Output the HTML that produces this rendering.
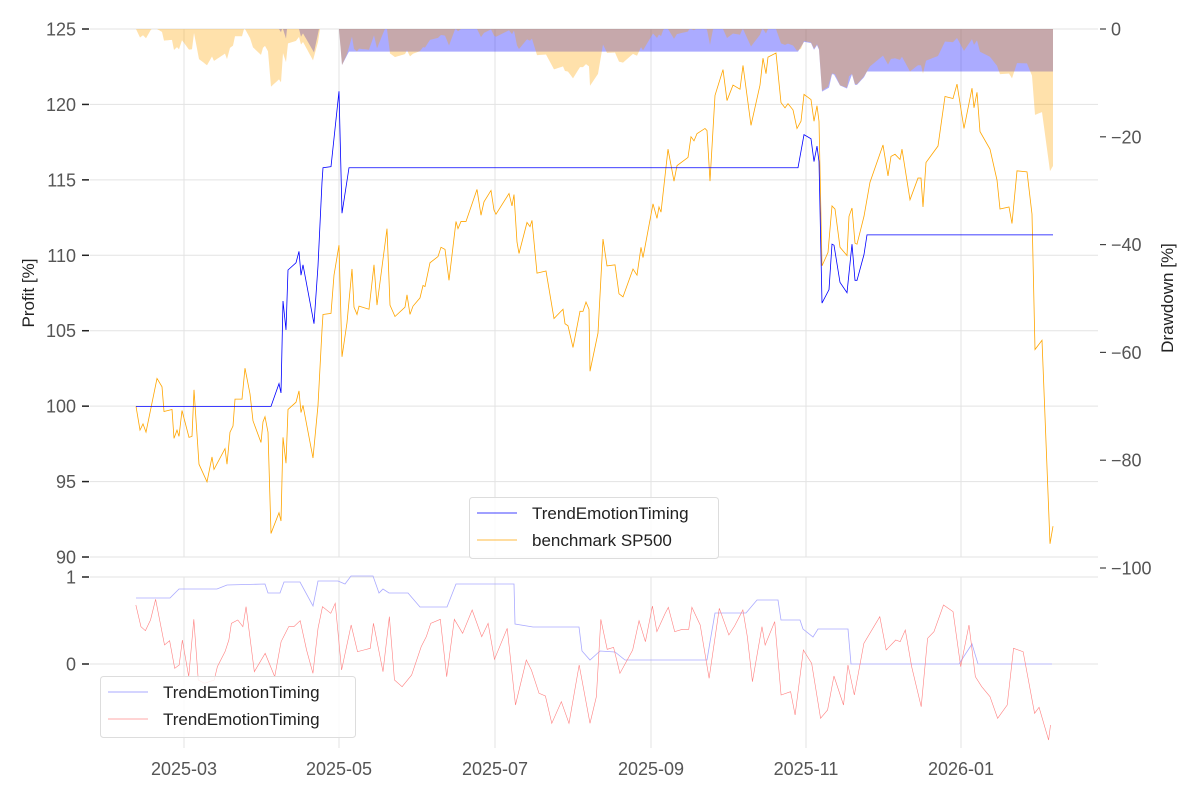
<!DOCTYPE html>
<html><head><meta charset="utf-8"><style>
body{margin:0;background:#fff;}
svg{display:block;font-family:"Liberation Sans",sans-serif;}
</style></head><body>
<svg id="s" width="1200" height="800" xmlns="http://www.w3.org/2000/svg">
<g id="grid" stroke="#e3e3e3" stroke-width="1"></g>
<g id="dd"></g>
<g id="lines"></g>
<g id="labels" fill="#555" font-size="18"></g>
<text x="34" y="293" font-size="17" fill="#222" text-anchor="middle" transform="rotate(-90 34 293)">Profit [%]</text>
<text x="1173" y="298" font-size="17" fill="#222" text-anchor="middle" transform="rotate(-90 1173 298)">Drawdown [%]</text>
<rect x="469.5" y="497.5" width="249" height="61" rx="3" fill="#fff" fill-opacity="0.85" stroke="#ddd"/>
<line x1="477" y1="513" x2="517" y2="513" stroke="#0000ff" stroke-width="0.8"/>
<line x1="477" y1="540" x2="517" y2="540" stroke="#ffa500" stroke-width="0.8"/>
<text x="532" y="519" font-size="17" fill="#222">TrendEmotionTiming</text>
<text x="532" y="546" font-size="17" fill="#222">benchmark SP500</text>
<rect x="100.5" y="676.5" width="255" height="61" rx="3" fill="#fff" fill-opacity="0.85" stroke="#ddd"/>
<line x1="108" y1="692" x2="148" y2="692" stroke="#aaaaff" stroke-width="1"/>
<line x1="108" y1="719" x2="148" y2="719" stroke="#ffaaaa" stroke-width="1"/>
<text x="163" y="698" font-size="17" fill="#222">TrendEmotionTiming</text>
<text x="163" y="725" font-size="17" fill="#222">TrendEmotionTiming</text>
</svg>
<script>
var NS="http://www.w3.org/2000/svg";
function el(p,t,a,txt){var e=document.createElementNS(NS,t);for(var k in a)e.setAttribute(k,a[k]);if(txt!=null)e.textContent=txt;document.getElementById(p).appendChild(e);return e;}
var xt=[[184,"2025-03"],[339,"2025-05"],[495,"2025-07"],[651,"2025-09"],[806,"2025-11"],[961,"2026-01"]];
xt.forEach(function(t){el("grid","line",{x1:t[0],x2:t[0],y1:29,y2:557});el("grid","line",{x1:t[0],x2:t[0],y1:577,y2:748});
el("labels","text",{x:t[0],y:775,"text-anchor":"middle"},t[1]);});
for(var v=90;v<=125;v+=5){var y=29+(125-v)*15.086;el("grid","line",{x1:90,x2:1098,y1:y,y2:y});
el("labels","text",{x:76,y:y+6.5,"text-anchor":"end"},v);el("labels","line",{x1:82,x2:89,y1:y,y2:y,stroke:"#222","stroke-width":"1.5"});}
for(var d=0;d<=100;d+=20){var y=29+d*5.39;el("labels","line",{x1:1100,x2:1106,y1:y,y2:y,stroke:"#444","stroke-width":"1.2"});
el("labels","text",{x:1111,y:y+6.5},d==0?"0":"\u2212"+d);}
[[577,"1"],[664,"0"]].forEach(function(t){el("grid","line",{x1:90,x2:1098,y1:t[0],y2:t[0]});
el("labels","text",{x:76,y:t[0]+6.5,"text-anchor":"end"},t[1]);el("labels","line",{x1:82,x2:89,y1:t[0],y2:t[0],stroke:"#222","stroke-width":"1.5"});});
var bench=[[136,394],[140,417],[143,411],[146,419],[157,367],[162,375],[164,399],[172,397],[174,425],[177,417],[179,423],[182,398],[189,424],[192,423],[194,378],[199,450],[207,467],[212,443],[214,455],[225,435],[227,450],[230,419],[233,413],[235,387],[242,387],[245,357],[250,382],[253,408],[261,429],[263,409],[265,404],[268,419],[271,517],[279,497],[281,505],[283,424],[286,449],[288,397],[296,390],[299,379],[301,400],[303,393],[313,444],[318,393],[322,320],[323,305],[331,304],[334,267],[339,238],[342,346],[347,313],[352,261],[354,298],[357,305],[359,297],[369,300],[374,257],[377,296],[387,222],[390,296],[395,307],[405,298],[407,286],[410,305],[413,297],[420,289],[423,277],[425,278],[430,255],[438,249],[441,240],[445,242],[449,272],[456,215],[458,222],[461,215],[466,215],[477,184],[481,209],[484,196],[491,185],[494,204],[496,208],[509,188],[512,200],[514,189],[517,235],[519,246],[527,216],[530,220],[532,214],[537,265],[546,263],[554,309],[563,300],[565,314],[568,316],[573,337],[580,302],[583,302],[586,293],[589,300],[590,360],[598,323],[603,232],[607,258],[615,257],[619,285],[623,288],[633,261],[637,267],[641,240],[643,250],[653,198],[657,212],[659,201],[661,206],[668,145],[674,176],[677,161],[688,153],[691,133],[694,137],[697,130],[705,125],[707,127],[710,176],[715,93],[723,68],[727,98],[733,83],[740,87],[743,64],[751,122],[760,83],[763,57],[766,72],[768,56],[776,52],[781,100],[785,105],[788,101],[793,107],[797,125],[801,118],[804,92],[811,97],[814,118],[817,103],[819,118],[822,258],[828,245],[832,200],[835,203],[840,240],[847,248],[849,210],[852,202],[855,236],[857,237],[864,210],[870,177],[883,141],[888,171],[891,152],[895,150],[900,155],[902,145],[910,194],[918,173],[921,173],[923,201],[926,158],[938,142],[945,94],[953,96],[957,82],[964,125],[972,86],[974,105],[977,90],[980,128],[990,145],[997,175],[1000,203],[1009,201],[1012,217],[1017,166],[1027,167],[1032,208],[1035,339],[1042,330],[1050,527],[1053,510]];
var strat=[[136,394],[271,394],[279,372],[281,381],[283,292],[286,320],[288,262],[296,255],[299,244],[301,267],[303,257],[314,314],[318,258],[322,177],[323,163],[331,162],[339,89],[342,207],[349,163],[798,163],[804,131],[811,135],[814,157],[817,142],[819,157],[822,294],[829,281],[832,237],[834,238],[840,274],[847,284],[852,237],[855,272],[857,272],[864,247],[867,228],[1053,228]];
function fixY(a){return a.map(function(p){return [p[0],20+(p[1]-20)*3/2.904];});}
bench=fixY(bench);strat=fixY(strat);
function pts(a){return a.map(function(p){return p[0]+","+p[1];}).join(" ");}
function interp(a,x){for(var i=1;i<a.length;i++){if(x<=a[i][0]){var t=(x-a[i-1][0])/((a[i][0]-a[i-1][0])||1);return a[i-1][1]+t*(a[i][1]-a[i-1][1]);}}return a[a.length-1][1];}
function ddpoly(a){var m=-1e9,out=[[136,29]];for(var x=136;x<=1053;x++){var v=125-(interp(a,x)-29)/15.086;if(v>m)m=v;var dd=(1-v/m)*100;out.push([x,29+dd*5.39]);}out.push([1053,29]);return pts(out);}
el("dd","polygon",{points:ddpoly(strat),fill:"#0000ff","fill-opacity":"0.33"});
el("dd","polygon",{points:ddpoly(bench),fill:"#ffa500","fill-opacity":"0.33"});
el("lines","polyline",{points:pts(bench),fill:"none",stroke:"#ffa500","stroke-width":"0.8"});
el("lines","polyline",{points:pts(strat),fill:"none",stroke:"#0000ff","stroke-width":"0.8"});
var b2=[[136,598],[170,598],[179,589],[217,589],[227,585],[265,584],[268,593],[280,593],[284,582],[300,582],[313,606],[318,581],[338,581],[345,584],[351,576],[373,576],[379,593],[383,589],[389,593],[408,593],[420,607],[447,607],[456,584],[514,584],[515,624],[533,627],[579,627],[582,651],[590,660],[600,651],[615,652],[625,660],[707,660],[710,642],[715,613],[746,613],[757,600],[778,600],[781,620],[800,620],[803,629],[813,637],[818,629],[848,629],[851,664],[959,664],[972,644],[978,664],[1052,664]];
var r=[[72,105],[80,170],[87,182],[95,150],[103,88],[117,225],[125,212],[133,295],[140,285],[145,210],[155,320],[163,148],[170,330],[180,340],[195,330],[200,290],[212,245],[218,210],[222,160],[232,150],[240,170],[245,110],[258,305],[275,250],[290,320],[300,215],[312,170],[320,170],[330,152],[340,240],[350,310],[358,175],[365,110],[378,130],[385,100],[395,300],[410,165],[420,245],[430,240],[440,235],[445,160],[460,305],[470,140],[478,330],[490,350],[505,315],[520,230],[528,200],[535,160],[550,148],[560,320],[572,148],[585,190],[600,120],[615,200],[625,160],[635,268],[655,175],[668,405],[685,270],[693,300],[705,370],[715,378],[725,460],[740,395],[752,460],[768,285],[785,460],[795,380],[802,148],[812,238],[822,232],[832,310],[852,240],[862,152],[872,215],[883,108],[890,185],[903,130],[908,112],[918,185],[930,178],[940,178],[945,112],[958,165],[972,325],[988,115],[1003,195],[1012,168],[1025,120],[1032,200],[1040,335],[1055,170],[1060,225],[1075,155],[1085,375],[1100,365],[1107,435],[1120,240],[1133,280],[1147,445],[1158,420],[1168,318],[1183,405],[1190,285],[1200,375],[1215,220],[1240,140],[1250,240],[1265,210],[1272,215],[1280,180],[1290,290],[1305,410],[1315,205],[1325,185],[1340,105],[1355,125],[1367,290],[1380,165],[1390,320],[1400,350],[1413,380],[1425,445],[1440,405],[1450,235],[1465,245],[1483,430],[1490,412],[1505,510],[1508,465]].map(function(p){return [90+p[0]/1.57,570+p[1]/3];});
el("lines","polyline",{points:pts(b2),fill:"none",stroke:"#aaaaff","stroke-width":"0.8"});
el("lines","polyline",{points:pts(r),fill:"none",stroke:"#ff8080","stroke-width":"0.6"});
</script>
</body></html>
